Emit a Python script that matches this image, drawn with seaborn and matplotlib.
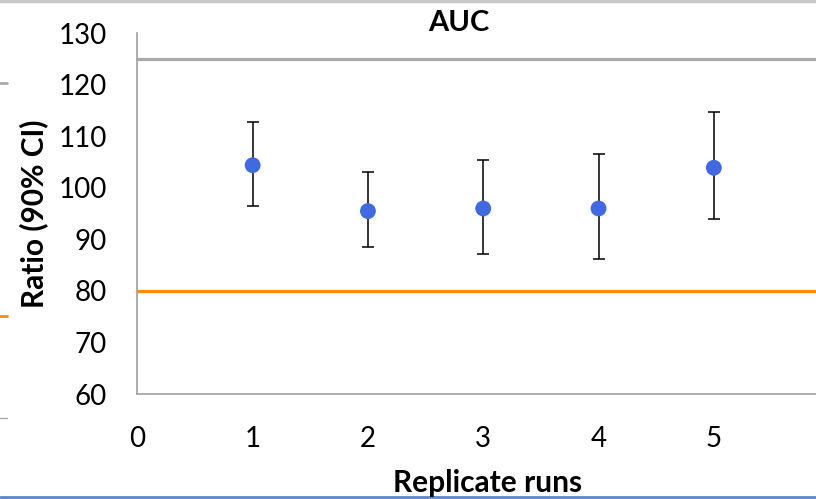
import matplotlib
matplotlib.use("Agg")
import matplotlib.pyplot as plt
from matplotlib.lines import Line2D
import seaborn as sns
import pandas as pd

# Datos (razón y IC 90 %)
runs = [1, 2, 3, 4, 5]
ratio = [104.4, 95.5, 96.0, 96.0, 103.9]
ci_low = [96.5, 88.5, 87.2, 86.2, 94.0]
ci_high = [112.7, 103.0, 105.5, 106.6, 114.8]
upper_limit = 125
lower_limit = 80
y_ticks = [60, 70, 80, 90, 100, 110, 120, 130]
x_ticks = [0, 1, 2, 3, 4, 5]

df = pd.DataFrame({"run": runs, "ratio": ratio, "lo": ci_low, "hi": ci_high})

sns.set_style("white")
plt.rcParams["font.family"] = ["Lato", "DejaVu Sans"]
plt.rcParams["text.color"] = "black"

fig = plt.figure(figsize=(8.16, 4.99), dpi=100)
ax = fig.add_axes([0.1683, 0.2104, 0.8317, 0.7229])

# Límites de bioequivalencia
ax.axhline(upper_limit, color="#A9A9A9", lw=2.3, zorder=1)
ax.axhline(lower_limit, color="#FF8C00", lw=2.3, zorder=1)

# Intervalos de confianza
ax.errorbar(df["run"], df["ratio"],
            yerr=[df["ratio"] - df["lo"], df["hi"] - df["ratio"]],
            fmt="none", ecolor="black", elinewidth=1.1, capsize=4.5,
            capthick=1.1, zorder=2)
sns.scatterplot(data=df, x="run", y="ratio", ax=ax, color="#4169E1",
                s=130, edgecolor="none", zorder=3, legend=False)

ax.set_xlim(0, 5.886)
ax.set_ylim(60, 130)
ax.set_xticks(x_ticks)
ax.set_yticks(y_ticks)
ax.set_xlabel("")
ax.set_ylabel("")
ax.tick_params(axis="y", direction="inout", length=14, width=1.1,
               color="#A0A0A0", labelcolor="black", labelsize=20, pad=15)
ax.tick_params(axis="x", direction="out", length=7, width=1.1,
               color="#A0A0A0", labelcolor="black", labelsize=20, pad=16)
for side in ["top", "right"]:
    ax.spines[side].set_visible(False)
for side in ["left", "bottom"]:
    ax.spines[side].set_color("#A0A0A0")
    ax.spines[side].set_linewidth(1.2)

fig.text(0.562, 1 - 30.7 / 499, "AUC", ha="center", va="baseline",
         fontsize=21, fontweight="bold")
fig.text(0.598, 1 - 491.7 / 499, "Replicate runs", ha="center", va="baseline",
         fontsize=21.5, fontweight="bold")
fig.text(0.0527, 0.572, "Ratio (90% CI)", ha="center", va="baseline",
         rotation=90, rotation_mode="anchor", fontsize=21.5, fontweight="bold")

# Bordes de la captura
fig.add_artist(Line2D([0, 1], [0.997, 0.997], color="#C8C8C8", lw=2.5))
fig.add_artist(Line2D([0, 1], [0.004, 0.004], color="#5B86C8", lw=2))
fig.add_artist(Line2D([0, 0.008], [1 - 83 / 499] * 2, color="#A9A9A9", lw=2))
fig.add_artist(Line2D([0, 0.008], [1 - 316 / 499] * 2, color="#FF8C00", lw=2))
fig.add_artist(Line2D([0, 0.008], [1 - 418 / 499] * 2, color="#A9A9A9", lw=1))

fig.savefig("out.png", dpi=100)
